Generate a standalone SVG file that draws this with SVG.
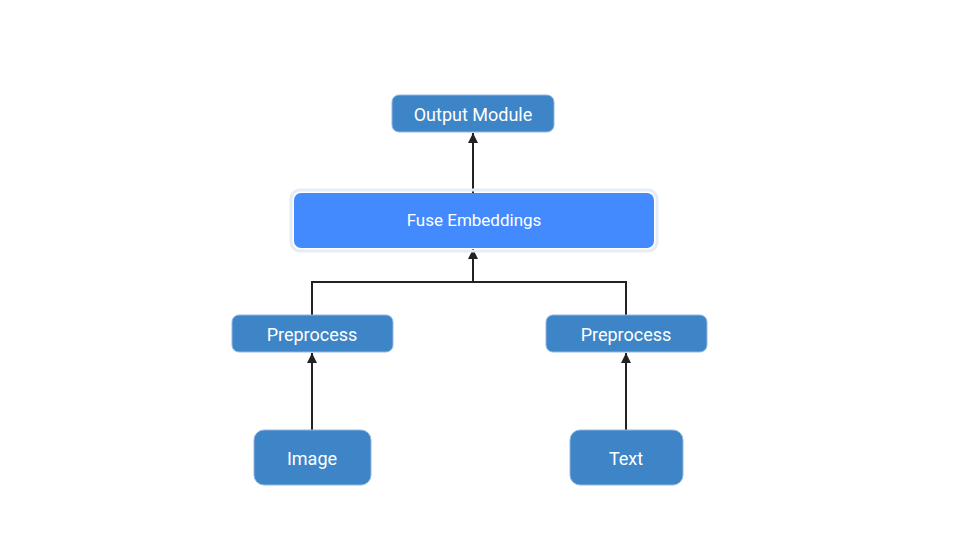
<svg xmlns="http://www.w3.org/2000/svg" width="960" height="540" viewBox="0 0 960 540">
<defs>
<style>
.n{fill:#3d85c6;stroke:#8fb8e3;stroke-width:1}
.t{font-family:Roboto,"Liberation Sans",sans-serif;fill:#fff;text-anchor:middle;dominant-baseline:central}
.c{fill:none;stroke:#222;stroke-width:2}
</style>
<marker id="a" viewBox="0 0 10 10" refX="10" refY="5" markerWidth="5" markerHeight="6" orient="auto"><path d="M0,0L10,5L0,10z" fill="#222"/></marker>
</defs>
<rect width="960" height="540" fill="#fff"/>
<g id="connectors">
<path class="c" d="M473,193V133" marker-end="url(#a)"/>
<path class="c" d="M312,315V282H626V315"/>
<path class="c" d="M473,282V249" marker-end="url(#a)"/>
<path class="c" d="M312,430V353" marker-end="url(#a)"/>
<path class="c" d="M626,430V353" marker-end="url(#a)"/>
</g>
<g id="output"><rect class="n" x="392" y="95" width="162" height="37" rx="7"/><text class="t" x="473" y="114" font-size="18">Output Module</text></g>
<g id="fuse"><rect x="291" y="190" width="366" height="61" rx="9" fill="none" stroke="#e6ecf3" stroke-width="3"/><rect x="294" y="193" width="360" height="55" rx="7" fill="#448aff"/><text class="t" x="474" y="220" font-size="17">Fuse Embeddings</text></g>
<g id="pre1"><rect class="n" x="232" y="315" width="161" height="37" rx="7"/><text class="t" x="312" y="334" font-size="18">Preprocess</text></g>
<g id="pre2"><rect class="n" x="546" y="315" width="161" height="37" rx="7"/><text class="t" x="626" y="334" font-size="18">Preprocess</text></g>
<g id="image"><rect class="n" x="254" y="430" width="117" height="55" rx="10"/><text class="t" x="312" y="458" font-size="18">Image</text></g>
<g id="text"><rect class="n" x="570" y="430" width="113" height="55" rx="10"/><text class="t" x="626" y="458" font-size="18">Text</text></g>
</svg>
